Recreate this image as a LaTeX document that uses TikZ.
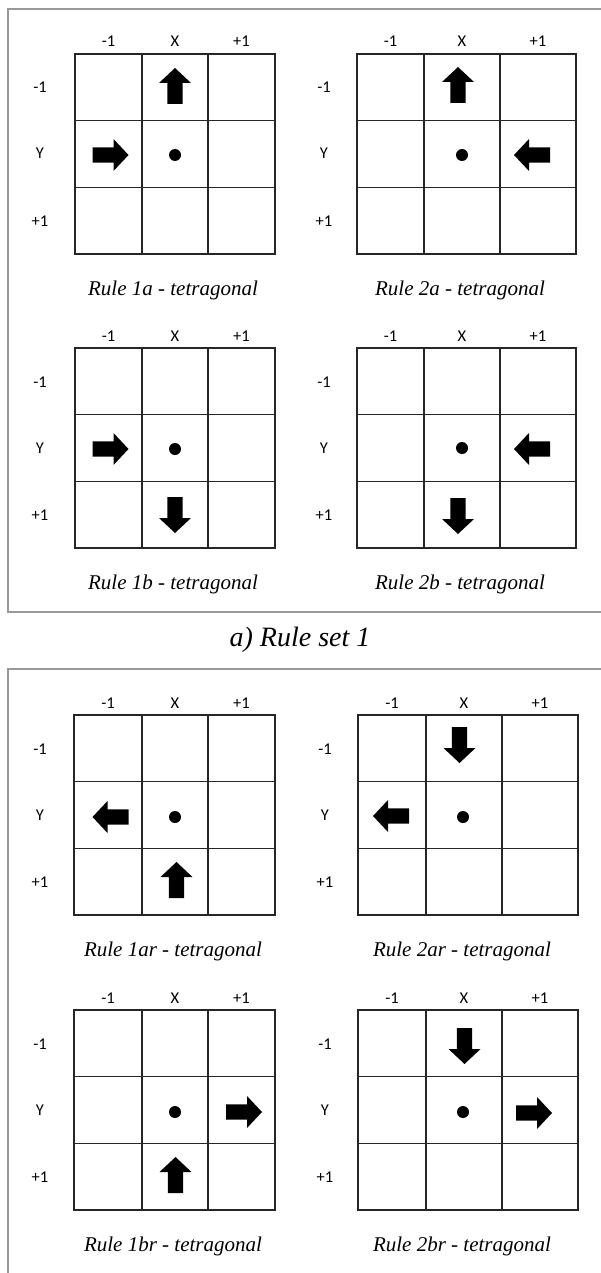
\documentclass[tikz,border=0pt]{standalone}
\usepackage{fontspec}
\setmainfont{Liberation Serif}
\newfontfamily\labfont{Carlito}
\tikzset{
  gridline/.style={draw=black!85, line width=1.2pt},
  panelline/.style={draw=black!40, line width=1.3pt},
  axlabel/.style={inner sep=0pt, anchor=base, font=\labfont\fontsize{16.5}{19}\selectfont},
  subcap/.style={inner sep=0pt, font=\fontsize{21}{25}\selectfont\itshape},
  maincap/.style={inner sep=0pt, font=\fontsize{28}{33}\selectfont\itshape},
  barrow/.pic={\fill[black] (18,0) -- (3,16) -- (3,7.7) -- (-18,7.7) -- (-18,-7.7) -- (3,-7.7) -- (3,-16) -- cycle;},
  centerdot/.style={fill=black}
}
% #1 name, #2-#5 column x, #6 top y, #7 row-label x, #8 caption
\newcommand\rulegrid[8]{%
  \draw[gridline] (#2,#6) rectangle (#5,{#6+200});
  \draw[gridline] (#3,#6) -- (#3,{#6+200}) (#4,#6) -- (#4,{#6+200});
  \draw[gridline] (#2,{#6+66.7}) -- (#5,{#6+66.7}) (#2,{#6+133.3}) -- (#5,{#6+133.3});
  \node[axlabel] (#1-cm) at ({(#2+#3)/2},{#6-7}) {-1};
  \node[axlabel] (#1-cx) at ({(#3+#4)/2},{#6-7}) {X};
  \node[axlabel] (#1-cp) at ({(#4+#5)/2},{#6-7}) {+1};
  \node[axlabel] (#1-rm) at (#7,{#6+39}) {-1};
  \node[axlabel] (#1-ry) at (#7,{#6+105}) {Y};
  \node[axlabel] (#1-rp) at (#7,{#6+172}) {+1};
  \node[subcap] (#1-cap) at ({(#3+#4)/2-2},{#6+236}) {#8};
}
\begin{document}
\begin{tikzpicture}[x=1pt,y=-1pt]
\useasboundingbox[fill=white] (0,0) rectangle (601,1273);
% panels
\draw[panelline] (601,9) -- (8,9) -- (8,612) -- (601,612);
\draw[panelline] (601,669) -- (8,669) -- (8,1273);
\node[maincap] (setA) at (300,640) {a) Rule set 1};
% grids
\rulegrid{g1a}{75}{142}{208}{275}{54}{40}{Rule 1a - tetragonal}
\rulegrid{g2a}{357}{424}{500}{576}{54}{324}{Rule 2a - tetragonal}
\rulegrid{g1b}{75}{142}{208}{275}{348}{40}{Rule 1b - tetragonal}
\rulegrid{g2b}{357}{424}{500}{576}{348}{324}{Rule 2b - tetragonal}
\rulegrid{g1ar}{74}{142}{208}{275}{715}{40}{Rule 1ar - tetragonal}
\rulegrid{g2ar}{358}{426}{502}{578}{715}{325}{Rule 2ar - tetragonal}
\rulegrid{g1br}{74}{142}{208}{275}{1010}{40}{Rule 1br - tetragonal}
\rulegrid{g2br}{358}{426}{502}{578}{1010}{325}{Rule 2br - tetragonal}
% dots
\fill[centerdot] (175,155) circle (6pt);
\fill[centerdot] (462,155) circle (6pt);
\fill[centerdot] (175,449) circle (6pt);
\fill[centerdot] (462,448) circle (6pt);
\fill[centerdot] (175,817) circle (6pt);
\fill[centerdot] (463,817) circle (6pt);
\fill[centerdot] (175,1112) circle (6pt);
\fill[centerdot] (463,1112) circle (6pt);
% arrows: 0 right, 90 up, 180 left, -90 down
\pic[rotate=90] at (175,86) {barrow};
\pic[rotate=0] at (110.5,155) {barrow};
\pic[rotate=90] at (458,85) {barrow};
\pic[rotate=180] at (532,155) {barrow};
\pic[rotate=0] at (110.5,449) {barrow};
\pic[rotate=-90] at (175,515) {barrow};
\pic[rotate=180] at (532,449) {barrow};
\pic[rotate=-90] at (458,516) {barrow};
\pic[rotate=180] at (110.5,817) {barrow};
\pic[rotate=90] at (176.5,880) {barrow};
\pic[rotate=-90] at (459.5,745) {barrow};
\pic[rotate=180] at (391,816) {barrow};
\pic[rotate=0] at (244,1112) {barrow};
\pic[rotate=90] at (175.5,1175) {barrow};
\pic[rotate=-90] at (464.5,1046) {barrow};
\pic[rotate=0] at (534,1113) {barrow};
\end{tikzpicture}
\end{document}
